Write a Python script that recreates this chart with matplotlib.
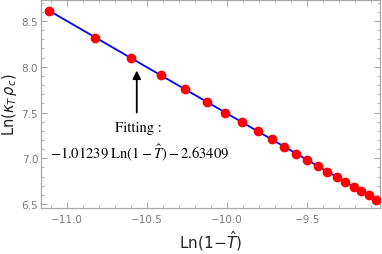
import matplotlib.pyplot as plt
from matplotlib.ticker import MultipleLocator
import numpy as np

# data: Ln(1-T) and Ln(kappa_T rho_c)
ln_one_minus_t = [-11.107, -10.820, -10.597, -10.414, -10.260, -10.127, -10.009,
                  -9.903, -9.808, -9.721, -9.641, -9.567, -9.498, -9.433,
                  -9.373, -9.316, -9.262, -9.210, -9.162, -9.115, -9.071]
ln_kappa_rho = [8.611, 8.320, 8.094, 7.909, 7.753, 7.618, 7.499,
                7.392, 7.296, 7.208, 7.126, 7.051, 6.982, 6.916,
                6.855, 6.797, 6.742, 6.690, 6.641, 6.594, 6.549]
fit_slope = -1.01239
fit_intercept = -2.63409

x = np.array(ln_one_minus_t)
y = np.array(ln_kappa_rho)

fig = plt.figure(figsize=(3.82, 2.55), dpi=100)
ax = fig.add_axes([41/382, 46/255, 339/382, 208/255])

xf = np.linspace(x.min(), x.max(), 50)
ax.plot(xf, fit_slope * xf + fit_intercept, color='#0000ff', lw=1.3, zorder=2)
ax.plot(x, y, 'o', color='#ff0000', ms=6, mec='#ff0000', zorder=3)

ax.set_xlim(-11.16, -9.045)
ax.set_ylim(6.457, 8.73)
ax.xaxis.set_major_locator(MultipleLocator(0.5))
ax.xaxis.set_minor_locator(MultipleLocator(0.1))
ax.yaxis.set_major_locator(MultipleLocator(0.5))
ax.yaxis.set_minor_locator(MultipleLocator(0.1))
ax.xaxis.set_major_formatter(lambda v, p: f'{v:.1f}'.replace('-', '\u2212'))
ax.yaxis.set_major_formatter(lambda v, p: f'{v:.1f}')

gray = '#a8a8a8'
for s in ax.spines.values():
    s.set_color(gray)
    s.set_linewidth(0.9)
ax.tick_params(which='both', direction='in', top=True, right=True,
               color=gray, labelcolor='#7a7a7a', labelsize=7.5)
ax.tick_params(axis='y', pad=2)
ax.tick_params(axis='x', pad=4)
ax.tick_params(which='major', length=4, width=0.8)
ax.tick_params(which='minor', length=2, width=0.6)

ax.set_xlabel(r'Ln$(1\!-\!\hat{T})$', fontsize=11, color='#222222', labelpad=3)
ax.set_ylabel(r'Ln$(\kappa_T\,\rho_c)$', fontsize=10.5, color='#222222', labelpad=2)

ax.annotate('', xy=(-10.5625, 7.99), xytext=(-10.5625, 7.47),
            arrowprops=dict(arrowstyle='-|>', color='black', lw=1.3,
                            mutation_scale=12))
ax.text(-10.555, 7.34, 'Fitting :', ha='center', va='center', fontsize=10.5,
        family='STIXGeneral')
ax.text(-10.545, 7.075,
        r'$-1.01239\;\mathrm{Ln}\left(1-\hat{T}\right)-2.63409$',
        ha='center', va='center', fontsize=10.5, math_fontfamily='stix')

fig.savefig('out.png', dpi=100)
